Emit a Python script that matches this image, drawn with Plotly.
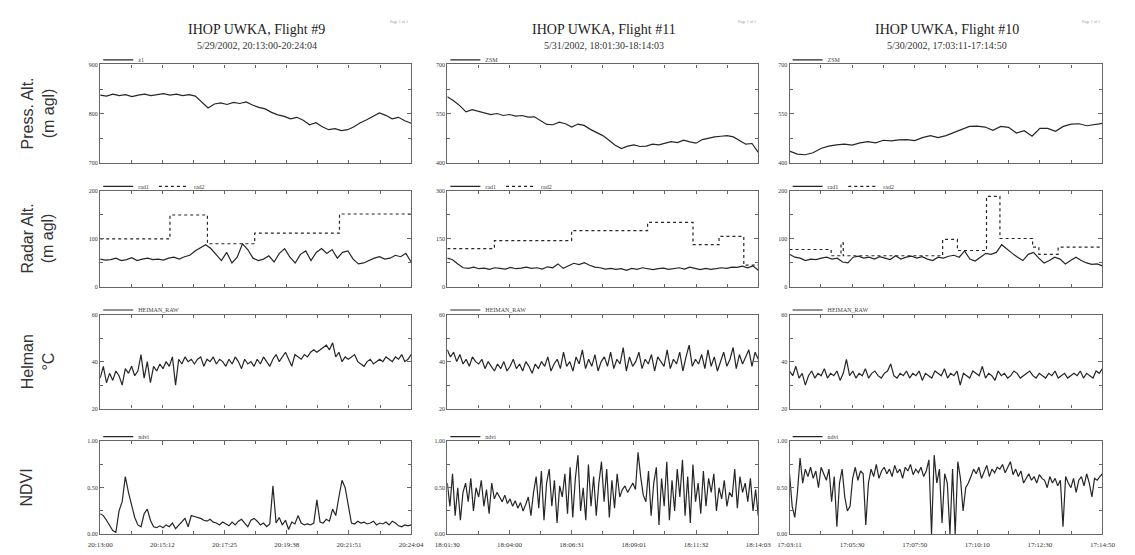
import numpy as np
import plotly.graph_objects as go

# page body has an 8px default margin, so the figure is laid out 8px in from the window
OFF = 8
W, H = 1135 - OFF, 555 - OFF

# ---------------- data ----------------
flight_titles = ["IHOP UWKA, Flight #9", "IHOP UWKA, Flight #11", "IHOP UWKA, Flight #10"]
flight_dates = ["5/29/2002, 20:13:00-20:24:04", "5/31/2002, 18:01:30-18:14:03", "5/30/2002, 17:03:11-17:14:50"]
flight_span_s = [664, 753, 699]
xtick_labels = [
    ["20:13:00", "20:15:12", "20:17:25", "20:19:38", "20:21:51", "20:24:04"],
    ["18:01:30", "18:04:00", "18:06:31", "18:09:01", "18:11:32", "18:14:03"],
    ["17:03:11", "17:05:30", "17:07:50", "17:10:10", "17:12:30", "17:14:50"],
]
row_titles = ["Press. Alt.<br>(m agl)", "Radar Alt.<br>(m agl)", "Helman<br>°C", "NDVI"]

press_names = ["z1", "ZSM", "ZSM"]
press_ranges = [(700, 900), (400, 700), (400, 700)]
radar_ranges = [(0, 200), (0, 300), (0, 200)]
helman_range = (20, 60)
ndvi_range = (0.0, 1.0)

press_f9 = [838, 836, 840, 837, 839, 835, 838, 840, 837, 839, 841, 838, 840, 837, 839,
            836, 825, 812, 820, 822, 819, 823, 821, 824, 818, 813, 810, 803, 798, 795,
            790, 793, 787, 778, 782, 774, 768, 770, 766, 768, 774, 782, 788, 795, 802,
            797, 790, 793, 786, 781]
press_f11 = [602, 590, 575, 556, 563, 558, 552, 548, 551, 545, 548, 543, 545, 540, 541,
             530, 518, 517, 525, 520, 510, 519, 515, 503, 493, 484, 470, 455, 445, 452,
             456, 451, 452, 458, 456, 462, 466, 463, 470, 465, 461, 472, 477, 480, 482,
             484, 480, 470, 458, 460, 433]
press_f10 = [437, 428, 426, 432, 445, 452, 456, 458, 455, 462, 466, 462, 470, 468, 471,
             472, 469, 478, 484, 478, 484, 494, 503, 512, 513, 510, 500, 512, 509, 492,
             499, 482, 506, 506, 497, 512, 519, 520, 514, 518, 521]

rad1_f9 = [58, 56, 57, 60, 55, 57, 61, 55, 58, 60, 57, 58, 56, 60, 62, 58, 63, 66, 75, 82,
           88, 80, 68, 55, 72, 50, 62, 90, 78, 60, 55, 58, 65, 52, 70, 80, 62, 50, 68, 75,
           55, 72, 80, 70, 78, 60, 72, 75, 58, 48, 50, 55, 60, 63, 58, 60, 66, 63, 70, 52]
rad1_f11 = [90, 85, 72, 60, 58, 62, 57, 59, 55, 60, 58, 56, 61, 57, 59, 62, 58, 60, 56, 63,
            60, 72, 58, 66, 74, 70, 76, 68, 62, 60, 56, 58, 55, 57, 52, 58, 55, 60, 58, 54,
            57, 59, 55, 58, 60, 56, 62, 58, 54, 58, 55, 57, 60, 58, 62, 61, 65, 60, 66, 52]
rad1_f10 = [68, 62, 60, 55, 58, 57, 60, 62, 58, 60, 52, 50, 62, 64, 60, 62, 58, 63, 60, 57,
            65, 58, 62, 64, 60, 63, 58, 55, 62, 60, 64, 66, 62, 75, 58, 54, 62, 70, 68, 72,
            88, 78, 70, 62, 55, 68, 72, 60, 50, 55, 62, 58, 48, 55, 62, 55, 50, 47, 48, 44]

rad2_t_f9 = [0, 149, 229, 330, 511, 664]
rad2_f9 = [100, 150, 90, 112, 152, 152]
rad2_t_f11 = [0, 114, 301, 485, 595, 658, 718, 753]
rad2_f11 = [120, 145, 176, 202, 132, 158, 68, 68]
rad2_t_f10 = [0, 93, 115, 120, 342, 375, 440, 470, 543, 557, 600, 699]
rad2_f10 = [78, 65, 92, 65, 99, 76, 189, 101, 83, 68, 83, 83]

helman_f9 = [33, 38, 31, 35, 32, 36, 34, 30, 37, 35,
             38, 34, 36, 43, 33, 40, 31, 38, 36, 39,
             37, 40, 38, 42, 30, 41, 39, 42, 40, 41,
             39, 41, 42, 38, 41, 40, 42, 39, 41, 40,
             38, 41, 39, 42, 40, 37, 41, 39, 40, 38,
             41, 39, 42, 40, 38, 41, 43, 40, 42, 44,
             41, 38, 43, 42, 41, 43, 42, 44, 45, 44,
             45, 46, 47, 45, 48, 42, 44, 40, 42, 41,
             42, 43, 40, 39, 38, 40, 41, 39, 40, 41,
             40, 42, 41, 40, 42, 41, 43, 40, 41, 43]
helman_f11 = [45, 42, 44, 40, 43, 39, 41, 38, 42, 40,
              39, 41, 37, 40, 38, 36, 39, 37, 40, 36,
              38, 41, 37, 39, 36, 40, 38, 35, 39, 37,
              40, 38, 42, 36, 39, 41, 37, 44, 38, 40,
              36, 42, 39, 45, 37, 41, 38, 43, 36, 40,
              42, 38, 44, 37, 41, 39, 46, 36, 42, 38,
              40, 44, 37, 41, 39, 43, 36, 42, 40, 38,
              45, 37, 41, 39, 44, 36, 42, 47, 38, 41,
              39, 43, 37, 45, 38, 42, 36, 40, 44, 38,
              41, 46, 37, 43, 39, 42, 45, 38, 44, 41]
helman_f10 = [36, 34, 38, 33, 35, 30, 34, 36, 33, 35,
              34, 37, 33, 35, 34, 36, 32, 35, 41, 34,
              36, 33, 35, 34, 37, 33, 35, 36, 34, 33,
              35, 36, 39, 34, 33, 35, 34, 36, 33, 35,
              34, 36, 32, 35, 34, 33, 36, 35, 34, 37,
              33, 35, 34, 36, 30, 35, 34, 33, 36, 35,
              34, 38, 33, 35, 34, 32, 36, 34, 35, 33,
              34, 36, 35, 33, 34, 35, 36, 34, 33, 35,
              34, 33, 35, 34, 36, 33, 34, 35, 33, 34,
              35, 34, 36, 33, 35, 34, 33, 36, 35, 37]

ndvi_f9 = [0.22, 0.20, 0.15, 0.10, 0.04, 0.02, 0.25, 0.35, 0.62, 0.45,
           0.32, 0.18, 0.10, 0.08, 0.22, 0.27, 0.15, 0.08, 0.07, 0.09,
           0.07, 0.10, 0.08, 0.12, 0.06, 0.10, 0.14, 0.17, 0.08, 0.20,
           0.19, 0.18, 0.17, 0.15, 0.14, 0.16, 0.13, 0.12, 0.10, 0.13,
           0.11, 0.09, 0.13, 0.10, 0.14, 0.16, 0.12, 0.08, 0.15, 0.17,
           0.14, 0.10, 0.12, 0.08, 0.11, 0.52, 0.12, 0.18, 0.10, 0.15,
           0.05, 0.13, 0.11, 0.20, 0.12, 0.10, 0.11, 0.10, 0.12, 0.37,
           0.13, 0.12, 0.16, 0.14, 0.27, 0.20, 0.40, 0.58, 0.50, 0.30,
           0.12, 0.11, 0.14, 0.12, 0.13, 0.11, 0.12, 0.14, 0.10, 0.12,
           0.11, 0.13, 0.10, 0.14, 0.12, 0.09, 0.08, 0.10, 0.09, 0.10]
ndvi_f11 = [0.55, 0.30, 0.65, 0.20, 0.50, 0.15, 0.45, 0.55, 0.35, 0.60,
            0.25, 0.50, 0.40, 0.58, 0.30, 0.48, 0.22, 0.55, 0.38, 0.45,
            0.40, 0.35, 0.42, 0.33, 0.38, 0.30, 0.36, 0.28, 0.34, 0.25,
            0.32, 0.40, 0.20, 0.45, 0.62, 0.28, 0.68, 0.15, 0.55, 0.70,
            0.30, 0.58, 0.12, 0.52, 0.40, 0.65, 0.22, 0.72, 0.18, 0.60,
            0.85, 0.25, 0.50, 0.15, 0.75, 0.30, 0.62, 0.20, 0.55, 0.78,
            0.35, 0.70, 0.18, 0.58, 0.28, 0.65, 0.40, 0.48, 0.52, 0.45,
            0.50, 0.55, 0.48, 0.88, 0.62, 0.42, 0.35, 0.68, 0.20, 0.55,
            0.72, 0.10, 0.60, 0.30, 0.78, 0.15, 0.58, 0.25, 0.70, 0.40,
            0.80, 0.20, 0.62, 0.12, 0.75, 0.35, 0.55, 0.22, 0.68, 0.30,
            0.60, 0.45, 0.65, 0.25, 0.50, 0.38, 0.58, 0.30, 0.45, 0.40,
            0.70, 0.28, 0.62, 0.45, 0.55, 0.35, 0.60, 0.25, 0.48, 0.20]
ndvi_f10 = [0.65, 0.30, 0.18, 0.45, 0.82, 0.55, 0.70, 0.62, 0.72, 0.60,
            0.68, 0.50, 0.72, 0.65, 0.58, 0.70, 0.35, 0.62, 0.08, 0.55,
            0.70, 0.40, 0.25, 0.30, 0.60, 0.72, 0.58, 0.68, 0.65, 0.10,
            0.55, 0.70, 0.62, 0.75, 0.60, 0.68, 0.72, 0.65, 0.70, 0.62,
            0.74, 0.66, 0.70, 0.60, 0.72, 0.68, 0.75, 0.64, 0.70, 0.66,
            0.72, 0.62, 0.68, 0.80, 0.00, 0.85, 0.55, 0.70, 0.12, 0.65,
            0.55, 0.00, 0.70, 0.00, 0.78, 0.60, 0.25, 0.50, 0.55, 0.62,
            0.70, 0.65, 0.72, 0.60, 0.68, 0.74, 0.62, 0.70, 0.66, 0.72,
            0.70, 0.75, 0.66, 0.72, 0.78, 0.64, 0.70, 0.62, 0.68, 0.55,
            0.60, 0.65, 0.58, 0.62, 0.55, 0.64, 0.60, 0.58, 0.50, 0.62,
            0.55, 0.60, 0.52, 0.58, 0.08, 0.62, 0.55, 0.50, 0.60, 0.45,
            0.58, 0.62, 0.52, 0.65, 0.55, 0.40, 0.60, 0.58, 0.62, 0.65]

press = [press_f9, press_f11, press_f10]
rad1 = [rad1_f9, rad1_f11, rad1_f10]
rad2_t = [rad2_t_f9, rad2_t_f11, rad2_t_f10]
rad2 = [rad2_f9, rad2_f11, rad2_f10]
helman = [helman_f9, helman_f11, helman_f10]
ndvi = [ndvi_f9, ndvi_f11, ndvi_f10]

# ---------------- layout geometry (window pixels) ----------------
cols_px = [(90, 408), (445, 763), (795, 1115)]
rows_px = [(62, 162), (190, 287), (315, 410), (443, 537)]
col_centers = [250, 605, 956]


def px(xw):
    return (xw - OFF) / W


def py(yw):
    return 1 - (yw - OFF) / H


LINE = "#262626"
AX = "#666666"
SERIF = "Liberation Serif, Times New Roman, serif"
SANS = "Liberation Sans, Arial, sans-serif"

fig = go.Figure()
layout = {}
annotations = []


def tsamp(span, vals):
    return np.linspace(0, span, len(vals))


def ax_id(n):
    return "" if n == 1 else str(n)


for c in range(3):
    span = flight_span_s[c]
    series_rows = [
        [(tsamp(span, press[c]), press[c], press_names[c], "solid", None)],
        [(tsamp(span, rad1[c]), rad1[c], "rad1", "solid", None),
         (rad2_t[c], rad2[c], "rad2", "dot", "hv")],
        [(tsamp(span, helman[c]), helman[c], "HEIMAN_RAW", "solid", None)],
        [(tsamp(span, ndvi[c]), ndvi[c], "ndvi", "solid", None)],
    ]
    yranges = [press_ranges[c], radar_ranges[c], helman_range, ndvi_range]
    for r in range(4):
        n = r * 3 + c + 1
        aid = ax_id(n)
        leg = "legend" if n == 1 else f"legend{n}"
        for (tx, vy, name, dash, shape) in series_rows[r]:
            fig.add_trace(go.Scatter(
                x=tx, y=vy, mode="lines", name=name,
                line=dict(color=LINE, width=1.2, dash=dash, shape=shape or "linear"),
                xaxis="x" + aid, yaxis="y" + aid, legend=leg, showlegend=True))
        l, rr = cols_px[c]
        t, b = rows_px[r]
        lo, hi = yranges[r]
        yt = [lo, (lo + hi) / 2, hi]
        ytt = ["%.2f" % v for v in yt] if r == 3 else ["%g" % v for v in yt]
        layout["xaxis" + aid] = dict(
            domain=[px(l), px(rr)], anchor="y" + aid, range=[0, span],
            showline=True, linecolor=AX, linewidth=1.3, mirror="allticks",
            ticks="inside", ticklen=4, tickcolor=AX,
            tickvals=[span * k / 5 for k in range(6)],
            ticktext=xtick_labels[c] if r == 3 else [""] * 6,
            showticklabels=(r == 3), ticklabelstandoff=3,
            tickfont=dict(family=SERIF, size=7, color="#333"),
            minor=dict(ticks="inside", dtick=span / 10, tick0=0, ticklen=3, tickcolor=AX),
            showgrid=False, zeroline=False, fixedrange=True)
        layout["yaxis" + aid] = dict(
            domain=[py(b), py(t)], anchor="x" + aid, range=[lo, hi],
            showline=True, linecolor=AX, linewidth=1.3, mirror="allticks",
            ticks="inside", ticklen=4, tickcolor=AX,
            tickvals=yt, ticktext=ytt,
            tickfont=dict(family=SERIF, size=6, color="#333"),
            minor=dict(ticks="inside", dtick=(hi - lo) / 4, tick0=lo, ticklen=3, tickcolor=AX),
            showgrid=False, zeroline=False, fixedrange=True)
        layout[leg] = dict(
            x=px(l - 2), y=py(t + 10), xanchor="left", yanchor="bottom",
            orientation="h", bgcolor="rgba(0,0,0,0)", borderwidth=0,
            font=dict(family=SERIF, size=6, color="#444"),
            itemwidth=30, tracegroupgap=0, itemclick=False, itemdoubleclick=False)

    # titles
    annotations.append(dict(
        x=px(col_centers[c]), y=py(27), xref="paper", yref="paper",
        text=flight_titles[c], showarrow=False,
        font=dict(family=SERIF, size=14, color="#222"), xanchor="center", yanchor="middle"))
    annotations.append(dict(
        x=px(col_centers[c]), y=py(43), xref="paper", yref="paper",
        text=flight_dates[c], showarrow=False,
        font=dict(family=SERIF, size=10, color="#333"), xanchor="center", yanchor="middle"))
    annotations.append(dict(
        x=px(cols_px[c][1] - 12), y=py(19), xref="paper", yref="paper",
        text="Page 1 of 1", showarrow=False,
        font=dict(family=SERIF, size=4, color="#999"), xanchor="center", yanchor="middle"))

row_label_x = [26, 26, 26, 15]
for r in range(4):
    t, b = rows_px[r]
    annotations.append(dict(
        x=px(row_label_x[r]), y=py((t + b) / 2), xref="paper", yref="paper",
        text=row_titles[r], showarrow=False, textangle=-90,
        font=dict(family=SANS, size=16, color="#333"),
        xanchor="center", yanchor="middle"))

layout.update(dict(
    width=W, height=H, margin=dict(l=0, r=0, t=0, b=0),
    paper_bgcolor="white", plot_bgcolor="white",
    annotations=annotations, showlegend=True))
fig.update_layout(**layout)

fig.write_html("out.html")
